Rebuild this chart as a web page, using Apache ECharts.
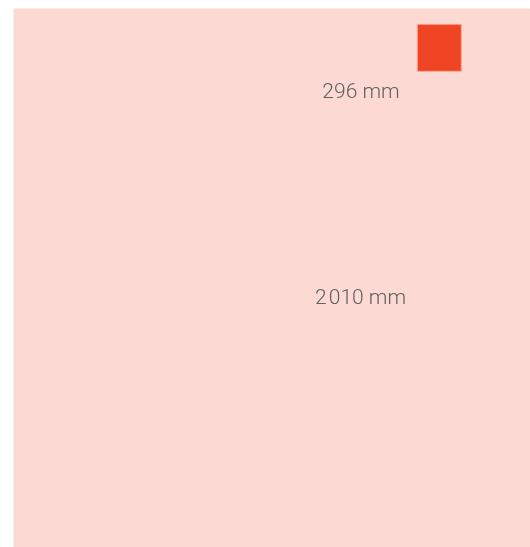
<!DOCTYPE html>
<html><head><meta charset="utf-8">
<script src="https://cdn.jsdelivr.net/npm/echarts@6/dist/echarts.min.js"></script>
<style>html,body{margin:0;padding:0;background:#fff}#c{width:530px;height:547px}</style>
</head><body><div id="c"></div>
<script>
// Data
var categories = ['Large', 'Small'];
var values = [2010, 296];           // mm
var labels = ['2\u200A010 mm', '296 mm'];

// Layout (kept separate from data)
var W = 530, H = 547;
var layout = [
  {x0: 13.5, y0: 8.5, x1: 720, y1: 600, lx: 360.5, ly: 298.5, fill: '#fcd9d3', stroke: null},
  {x0: 417.3, y0: 24.3, x1: 461.3, y1: 71.3, lx: 361, ly: 93, fill: '#ef4524', stroke: 'rgba(255,170,150,0.9)'}
];

var chart = echarts.init(document.getElementById('c'), null, {renderer: 'canvas'});
chart.setOption({
  animation: false,
  grid: {left: 0, right: 0, top: 0, bottom: 0},
  xAxis: {type: 'value', min: 0, max: W, show: false},
  yAxis: {type: 'value', min: 0, max: H, inverse: true, show: false},
  series: [{
    type: 'custom',
    clip: false,
    data: categories.map(function (c, i) { return {name: c, value: [i, values[i]]}; }),
    renderItem: function (params, api) {
      var i = api.value(0);
      var L = layout[i];
      var p0 = api.coord([L.x0, L.y0]);
      var p1 = api.coord([L.x1, L.y1]);
      return {
        type: 'rect',
        shape: {x: p0[0], y: p0[1], width: p1[0] - p0[0], height: p1[1] - p0[1]},
        style: {fill: L.fill, stroke: L.stroke, lineWidth: L.stroke ? 1 : 0}
      };
    }
  }, {
    type: 'custom',
    clip: false,
    z: 10,
    data: categories.map(function (c, i) { return {name: c, value: [i, values[i]]}; }),
    renderItem: function (params, api) {
      var i = api.value(0);
      var L = layout[i];
      var p = api.coord([L.lx, L.ly]);
      return {
        type: 'text',
        x: p[0], y: p[1],
        style: {text: labels[i], align: 'center', verticalAlign: 'middle',
          fill: '#626060', font: '300 21px Roboto, "Liberation Sans", sans-serif'}
      };
    }
  }]
});
</script></body></html>
